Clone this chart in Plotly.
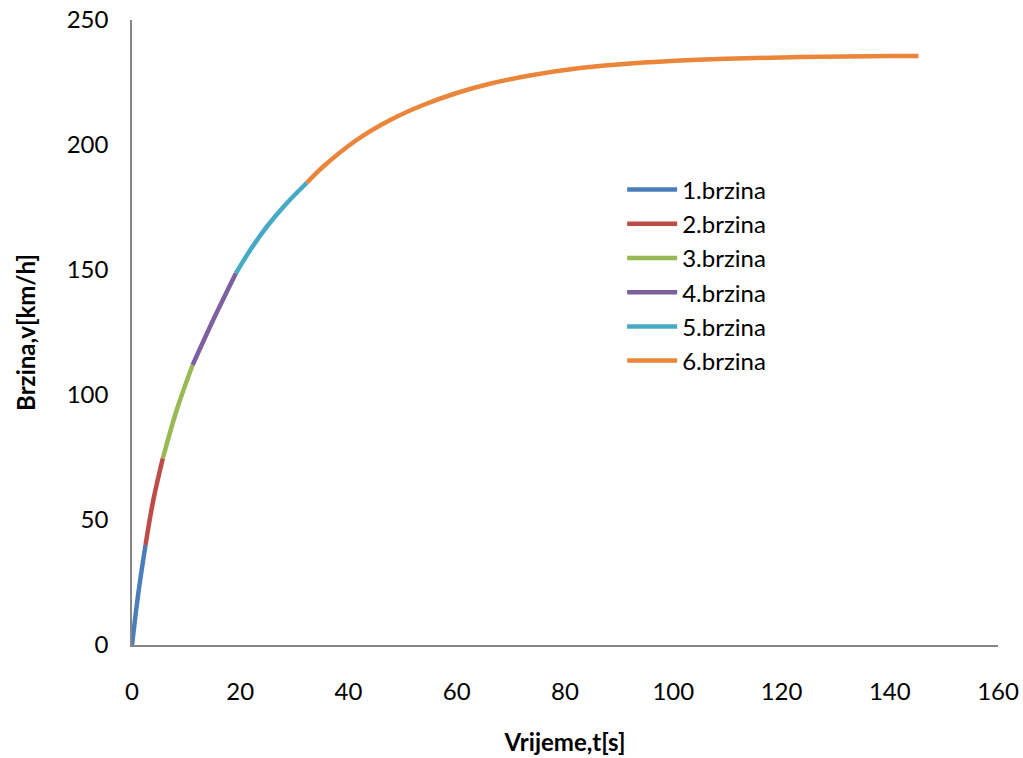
import plotly.graph_objects as go

# Data (time in s, speed in km/h)
names = ["1.brzina", "2.brzina", "3.brzina", "4.brzina", "5.brzina", "6.brzina"]
colors = ["#4A7EBB", "#BE4B48", "#98B954", "#7D60A0", "#46AAC5", "#EA853A"]

t1 = [0.0, 1.17, 2.5]
v1 = [0.0, 20.7, 40.0]
t2 = [2.5, 3.94, 5.7]
v2 = [40.0, 58.0, 74.7]
t3 = [5.7, 8.26, 11.2]
v3 = [74.7, 94.0, 112.0]
t4 = [11.2, 15.0, 19.2]
v4 = [112.0, 130.0, 148.7]
t5 = [19.2, 22.0, 24.9, 28.5, 32.3]
v5 = [148.7, 158.5, 167.3, 176.5, 184.9]
t6 = [32.3, 35.3, 41.5, 47.7, 53.8, 60.0, 66.1, 73.5, 82.8, 92.0, 103.5, 115.4, 127.7, 140.0, 145.3]
v6 = [184.9, 191.3, 202.0, 210.0, 216.0, 220.8, 224.5, 227.8, 230.8, 232.6, 234.0, 234.8, 235.3, 235.6, 235.6]

xs = [t1, t2, t3, t4, t5, t6]
ys = [v1, v2, v3, v4, v5, v6]

x_ticks = [0, 20, 40, 60, 80, 100, 120, 140, 160]
y_ticks = [0, 50, 100, 150, 200, 250]

font_family = "Lato, Open Sans, sans-serif"

fig = go.Figure()
for i, (n, c, x, y) in enumerate(zip(names, colors, xs, ys)):
    fig.add_trace(go.Scatter(x=x, y=y, mode="lines", name=n, legendgroup=f"g{i}",
                             line=dict(color=c, width=4.5, shape="spline")))

fig.update_layout(
    width=1023, height=758,
    margin=dict(l=132, r=25, t=20, b=113, autoexpand=False),
    paper_bgcolor="white", plot_bgcolor="white",
    font=dict(family=font_family, size=24, color="#000000"),
    showlegend=True,
    legend=dict(x=0.566, y=0.764, xanchor="left", yanchor="top",
                bgcolor="rgba(0,0,0,0)", font=dict(size=24),
                itemwidth=50, tracegroupgap=0),
)
fig.update_xaxes(range=[0, 160], tickvals=x_ticks, showgrid=False, zeroline=False,
                 showline=True, linecolor="#868686", linewidth=1.5,
                 ticks="outside", ticklen=24, tickcolor="rgba(0,0,0,0)", automargin=False,
                 title=dict(text="<b>Vrijeme,t[s]</b>", font=dict(size=24), standoff=31))
fig.update_yaxes(range=[0, 250], tickvals=y_ticks, showgrid=False, zeroline=False,
                 showline=True, linecolor="#868686", linewidth=1.5,
                 ticks="outside", ticklen=17, tickcolor="rgba(0,0,0,0)", automargin=False,
                 title=dict(text="<b>Brzina,v[km/h]</b>", font=dict(size=24), standoff=24))

fig.write_html("out.html", config={"displayModeBar": False},
               post_script="document.body.style.margin='0';")
